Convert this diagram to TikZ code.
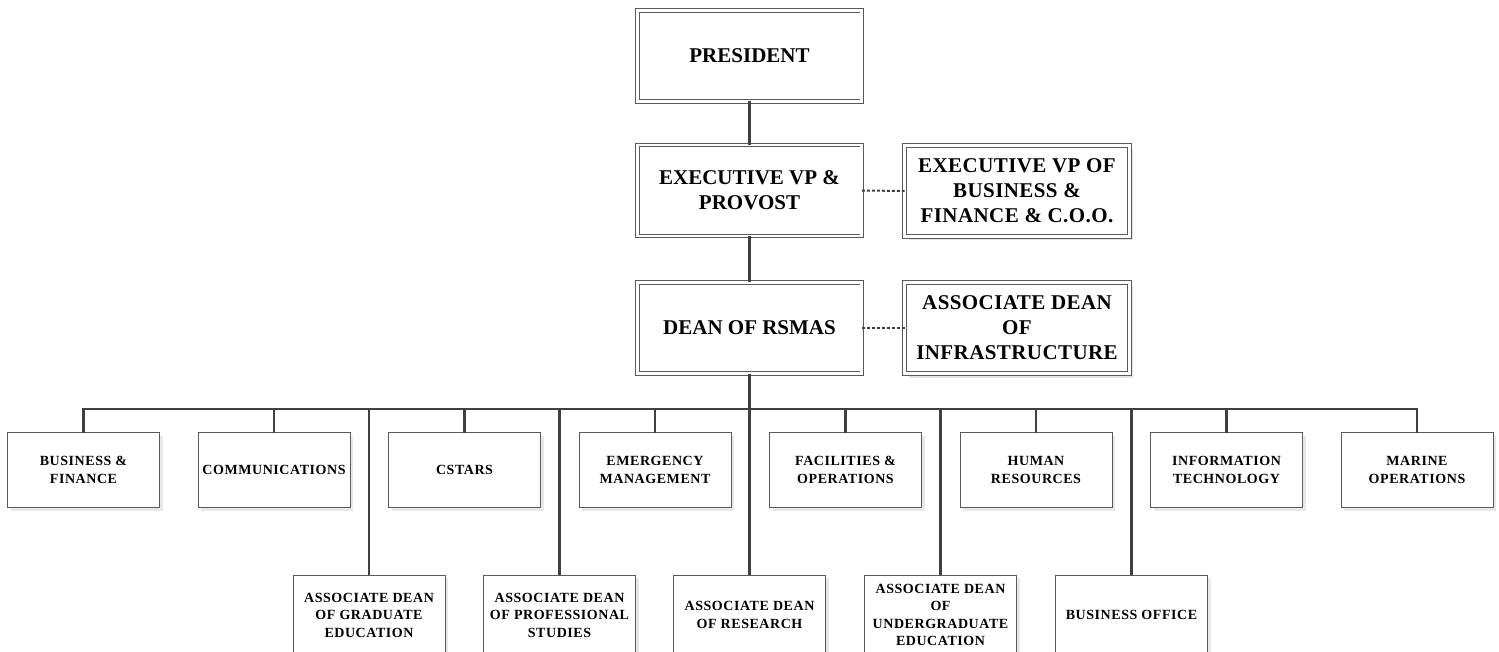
\documentclass[tikz,border=0pt]{standalone}
\usepackage{fontspec}
\setmainfont{Liberation Serif}
\usetikzlibrary{shadows}
\definecolor{bordc}{HTML}{5A5A5A}
\definecolor{linec}{HTML}{404040}
\begin{document}
\begin{tikzpicture}[x=1pt,y=-1pt,
  bigbox/.style={draw=bordc, line width=0.9pt, double, double distance=2.8pt,
    fill=white, minimum width=224.6pt, minimum height=91pt, inner sep=0pt,
    outer sep=0pt, align=center, font=\fontsize{21}{25}\selectfont\bfseries},
  sidebox/.style={bigbox, font=\fontsize{21}{25}\selectfont\bfseries\addfontfeature{LetterSpace=2},
    drop shadow={shadow xshift=4pt, shadow yshift=-4pt, fill=black!22}},
  smallbox/.style={draw=bordc, line width=0.9pt, fill=white, minimum width=152pt,
    minimum height=75pt, inner sep=0pt, outer sep=0pt, align=center,
    font=\fontsize{14}{17.5}\selectfont\bfseries\addfontfeature{LetterSpace=4},
    drop shadow={shadow xshift=3pt, shadow yshift=-3pt, fill=black!18}},
  lowbox/.style={smallbox, minimum height=80pt},
  conn/.style={draw=linec, line width=2.4pt},
  dotconn/.style={draw=linec, line width=2pt, dash pattern=on 3pt off 2pt}]
\useasboundingbox (0,0) rectangle (1499,652);
\clip (0,0) rectangle (1499,652);

% upper hierarchy
\node[bigbox] (pres) at (749.5,56) {PRESIDENT};
\node[bigbox] (prov) at (749.5,190.5) {EXECUTIVE VP \&\\PROVOST};
\node[bigbox] (dean) at (749.5,328) {DEAN OF RSMAS};
\node[sidebox] (evp) at (1017,191) {EXECUTIVE VP OF\\BUSINESS \&\\FINANCE \& C.O.O.};
\node[sidebox] (infra) at (1017,328) {ASSOCIATE DEAN\\OF\\INFRASTRUCTURE};

% first row of units
\node[smallbox] (bf)   at (83.5,470)  {BUSINESS \&\\FINANCE};
\node[smallbox] (com)  at (274,470)   {COMMUNICATIONS};
\node[smallbox] (cst)  at (464.5,470) {CSTARS};
\node[smallbox] (emg)  at (655,470)   {EMERGENCY\\MANAGEMENT};
\node[smallbox] (fac)  at (845.5,470) {FACILITIES \&\\OPERATIONS};
\node[smallbox] (hr)   at (1036,470)  {HUMAN\\RESOURCES};
\node[smallbox] (it)   at (1226.5,470){INFORMATION\\TECHNOLOGY};
\node[smallbox] (mar)  at (1417,470)  {MARINE\\OPERATIONS};

% second row of units
\node[lowbox] (grad) at (369,615)    {ASSOCIATE DEAN\\OF GRADUATE\\EDUCATION};
\node[lowbox] (prof) at (559.5,615)  {ASSOCIATE DEAN\\OF PROFESSIONAL\\STUDIES};
\node[lowbox] (res)  at (749.5,615)  {ASSOCIATE DEAN\\OF RESEARCH};
\node[lowbox] (ug)   at (940.5,615)  {ASSOCIATE DEAN\\OF\\UNDERGRADUATE\\EDUCATION};
\node[lowbox] (bo)   at (1131.5,615) {BUSINESS OFFICE};

% connectors
\coordinate (bus) at (749.5,409);
\draw[conn] (pres) -- (prov);
\draw[conn] (prov) -- (dean);
\draw[conn] (dean.south) -- (res.north);
\draw[dotconn] (prov.east) -- (evp.west);
\draw[dotconn] (dean.east) -- (infra.west);
\draw[conn] (bf.north) |- (bus) -| (mar.north);
\foreach \n in {com,cst,emg,fac,hr,it,grad,prof,ug,bo}
  \draw[conn] (\n.north) -- (\n.north |- bus);
\end{tikzpicture}
\end{document}
